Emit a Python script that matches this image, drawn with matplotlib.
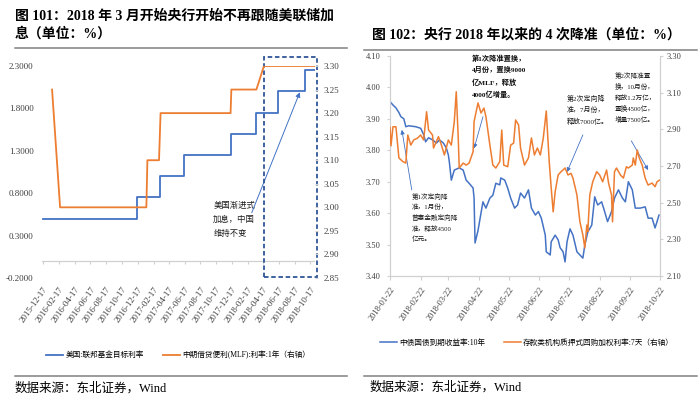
import matplotlib
matplotlib.use('Agg')
import matplotlib.pyplot as plt
from matplotlib.lines import Line2D
from matplotlib.patches import Rectangle
import numpy as np
import pandas as pd

plt.rcParams['font.family'] = ['Liberation Serif', 'Noto Sans CJK SC']
plt.rcParams['axes.unicode_minus'] = False

BLUE = '#4472C4'
ORANGE = '#ED7D31'
AXGREY = '#D0D0D0'
TXT = '#404040'

# ---- 图101 数据 ----
fed_dates = ['2015-12-17', '2016-12-14', '2017-03-15', '2017-06-14', '2017-12-13',
             '2018-03-21', '2018-06-13', '2018-09-26']
fed_rate = [0.50, 0.75, 1.00, 1.25, 1.50, 1.75, 2.00, 2.25]
fed_end = '2018-11-05'

mlf_dates = ['2016-01-21', '2016-02-21', '2017-01-20', '2017-01-24', '2017-03-10',
             '2017-03-16', '2017-12-12', '2017-12-15', '2018-03-22', '2018-04-20',
             '2018-11-05']
mlf_rate = [3.25, 3.00, 3.00, 3.10, 3.10, 3.20, 3.20, 3.25, 3.25, 3.30, 3.30]

left_ticks = ['2015-12-17', '2016-02-17', '2016-04-17', '2016-06-17', '2016-08-17',
              '2016-10-17', '2016-12-17', '2017-02-17', '2017-04-17', '2017-06-17',
              '2017-08-17', '2017-10-17', '2017-12-17', '2018-02-17', '2018-04-17',
              '2018-06-17', '2018-08-17', '2018-10-17']

# ---- 图102 数据 ----
bond_dates = ['2018-01-22', '2018-01-25', '2018-01-28', '2018-01-31', '2018-02-02', '2018-02-05',
              '2018-02-07', '2018-02-10', '2018-02-17', '2018-02-22', '2018-02-25', '2018-02-27',
              '2018-03-02', '2018-03-06', '2018-03-10', '2018-03-13', '2018-03-17', '2018-03-20',
              '2018-03-22', '2018-03-23', '2018-03-25', '2018-03-28', '2018-04-02', '2018-04-06',
              '2018-04-09', '2018-04-12', '2018-04-16', '2018-04-17', '2018-04-18', '2018-04-21',
              '2018-04-24', '2018-04-26', '2018-04-29', '2018-05-03', '2018-05-06', '2018-05-09',
              '2018-05-13', '2018-05-14', '2018-05-18', '2018-05-21', '2018-05-24', '2018-05-28',
              '2018-05-31', '2018-06-03', '2018-06-07', '2018-06-11', '2018-06-14', '2018-06-18',
              '2018-06-21', '2018-06-24', '2018-06-28', '2018-06-29', '2018-07-03', '2018-07-04',
              '2018-07-08', '2018-07-11', '2018-07-13', '2018-07-16', '2018-07-18', '2018-07-20',
              '2018-07-23', '2018-07-26', '2018-07-30', '2018-08-02', '2018-08-05', '2018-08-07',
              '2018-08-10', '2018-08-14', '2018-08-17', '2018-08-20', '2018-08-24', '2018-08-27',
              '2018-08-30', '2018-09-03', '2018-09-06', '2018-09-10', '2018-09-14', '2018-09-17',
              '2018-09-20', '2018-09-24', '2018-09-27', '2018-10-02', '2018-10-07', '2018-10-10',
              '2018-10-14', '2018-10-17', '2018-10-19', '2018-10-21']
bond_10y = [3.955, 3.944, 3.935, 3.920, 3.907, 3.900, 3.875, 3.878, 3.875, 3.870, 3.850, 3.827,
            3.840, 3.833, 3.823, 3.833, 3.823, 3.807, 3.785, 3.763, 3.705, 3.737, 3.744, 3.737,
            3.705, 3.695, 3.680, 3.648, 3.505, 3.545, 3.600, 3.636, 3.616, 3.648, 3.657, 3.695,
            3.690, 3.712, 3.705, 3.680, 3.648, 3.616, 3.626, 3.664, 3.648, 3.674, 3.616, 3.594,
            3.605, 3.584, 3.530, 3.477, 3.467, 3.509, 3.530, 3.515, 3.490, 3.477, 3.445, 3.509,
            3.550, 3.530, 3.477, 3.467, 3.457, 3.499, 3.540, 3.562, 3.652, 3.626, 3.636, 3.605,
            3.573, 3.605, 3.648, 3.674, 3.648, 3.636, 3.700, 3.674, 3.616, 3.616, 3.620, 3.584,
            3.584, 3.553, 3.573, 3.594]

repo_dates = ['2018-01-22', '2018-01-23', '2018-01-25', '2018-01-28', '2018-01-31', '2018-02-04',
              '2018-02-07', '2018-02-09', '2018-02-12', '2018-02-15', '2018-02-19', '2018-02-22',
              '2018-02-25', '2018-02-28', '2018-03-02', '2018-03-06', '2018-03-07', '2018-03-12',
              '2018-03-15', '2018-03-18', '2018-03-22', '2018-03-25', '2018-03-28', '2018-03-30',
              '2018-04-01', '2018-04-02', '2018-04-06', '2018-04-09', '2018-04-12', '2018-04-16',
              '2018-04-17', '2018-04-21', '2018-04-24', '2018-04-27', '2018-04-29', '2018-05-03',
              '2018-05-06', '2018-05-09', '2018-05-13', '2018-05-15', '2018-05-17', '2018-05-21',
              '2018-05-24', '2018-05-27', '2018-05-29', '2018-06-01', '2018-06-03', '2018-06-07',
              '2018-06-11', '2018-06-14', '2018-06-17', '2018-06-20', '2018-06-23', '2018-06-26',
              '2018-06-29', '2018-07-02', '2018-07-04', '2018-07-06', '2018-07-08', '2018-07-11',
              '2018-07-14', '2018-07-18', '2018-07-21', '2018-07-24', '2018-07-26', '2018-07-30',
              '2018-08-02', '2018-08-05', '2018-08-07', '2018-08-09', '2018-08-10', '2018-08-12',
              '2018-08-15', '2018-08-19', '2018-08-22', '2018-08-25', '2018-08-29', '2018-08-31',
              '2018-09-03', '2018-09-04', '2018-09-06', '2018-09-08', '2018-09-12', '2018-09-15',
              '2018-09-18', '2018-09-20', '2018-09-24', '2018-09-25', '2018-09-27', '2018-09-29',
              '2018-10-01', '2018-10-04', '2018-10-07', '2018-10-10', '2018-10-14', '2018-10-17',
              '2018-10-19', '2018-10-22']
repo_7d = [2.910, 2.810, 2.914, 2.914, 2.744, 2.724, 2.716, 2.869, 2.814, 2.842, 2.853, 2.869,
           2.842, 2.996, 2.896, 2.869, 2.798, 2.860, 2.814, 2.760, 2.842, 2.814, 2.942, 3.105,
           2.853, 2.689, 2.716, 2.705, 2.716, 2.778, 2.942, 3.044, 2.989, 3.016, 2.969, 2.814,
           2.705, 2.689, 2.724, 2.896, 2.705, 2.696, 2.814, 2.825, 2.951, 2.924, 2.798, 2.705,
           2.744, 2.853, 2.760, 2.798, 2.760, 2.853, 3.000, 2.724, 2.580, 2.450, 2.560, 2.651,
           2.669, 2.689, 2.651, 2.660, 2.634, 2.542, 2.396, 2.324, 2.253, 2.378, 2.342, 2.542,
           2.614, 2.669, 2.651, 2.614, 2.678, 2.607, 2.542, 2.396, 2.669, 2.689, 2.651, 2.634,
           2.696, 2.689, 2.705, 2.744, 2.705, 2.787, 2.744, 2.705, 2.634, 2.596, 2.607, 2.587,
           2.614, 2.624]

right_ticks = ['2018-01-22', '2018-02-22', '2018-03-22', '2018-04-22', '2018-05-22',
               '2018-06-22', '2018-07-22', '2018-08-22', '2018-09-22', '2018-10-22']

W, H = 700, 398
fig = plt.figure(figsize=(7, 3.98), dpi=100)


def fx(px):
    return px / W


def fy(py):
    return 1 - py / H


def hline(x0, x1, y, color='#808080', lw=1.1):
    fig.add_artist(Line2D([fx(x0), fx(x1)], [fy(y), fy(y)], transform=fig.transFigure,
                          color=color, lw=lw))


# ================= 图101 =================
fig.text(fx(15), fy(16), '图 101：2018 年 3 月开始央行开始不再跟随美联储加',
         fontsize=10, weight='bold', va='center')
fig.text(fx(15), fy(34), '息（单位：%）', fontsize=10, weight='bold', va='center')
hline(15, 347, 48)

ax1 = fig.add_axes([fx(42), fy(278), fx(315.3 - 42), 212 / H])
ax1b = ax1.twinx()

fd = pd.to_datetime(fed_dates + [fed_end])
l1, = ax1.plot(fd, fed_rate + [fed_rate[-1]], color=BLUE, lw=1.3, drawstyle='steps-post',
               label='美国:联邦基金目标利率')
l2, = ax1b.plot(pd.to_datetime(mlf_dates), mlf_rate, color=ORANGE, lw=1.3,
                label='中期借贷便利(MLF):利率:1年（右轴）')

ax1.set_xlim(pd.Timestamp('2015-12-13'), pd.Timestamp('2018-11-05'))
ax1.set_ylim(-0.2, 2.3)
ax1.set_yticks(np.arange(-0.2, 2.31, 0.5))
ax1.set_yticklabels([f'{v:.4f}' for v in np.arange(-0.2, 2.31, 0.5)])
ax1b.set_ylim(2.85, 3.30)
ax1b.set_yticks(np.linspace(2.85, 3.30, 10))
ax1b.set_yticklabels([f'{v:.2f}' for v in np.linspace(2.85, 3.30, 10)])

lt = pd.to_datetime(left_ticks)
ax1.set_xticks(lt)
ax1.set_xticklabels(left_ticks, rotation=55, ha='right', rotation_mode='anchor')
ax1.axhline(0, color=AXGREY, lw=0.9)
ax1.vlines(lt, -0.04, 0, color=AXGREY, lw=0.8)

for a in (ax1, ax1b):
    for s in a.spines.values():
        s.set_visible(False)
ax1.tick_params(axis='x', length=0, labelsize=6.5, colors=TXT, pad=5)
ax1.tick_params(axis='y', length=0, labelsize=6.5, colors=TXT, pad=6)
ax1b.tick_params(axis='y', length=2, color=AXGREY, labelsize=6.5, colors=TXT, pad=4)
ax1b.tick_params(axis='y', color=AXGREY)

box = Rectangle((0.812, 0.005), 0.194, 1.037, transform=ax1.transAxes, fill=False,
                ec='#2F5597', ls=(0, (2.5, 1.5)), lw=1.3, clip_on=False)
ax1b.add_patch(box)

ax1.text(pd.Timestamp('2017-10-06'), 0.70, '美国渐进式\n加息，中国\n维持不变', fontsize=6,
         va='top', ha='left', linespacing=2.0, color='#1a1a1a')
ax1.annotate('', xy=(pd.Timestamp('2018-09-06'), 1.99), xytext=(pd.Timestamp('2018-03-04'), 0.57),
             arrowprops=dict(arrowstyle='-|>', color=BLUE, lw=0.7, mutation_scale=7,
                             shrinkA=0, shrinkB=0))

fig.legend(handles=[l1, l2], loc='center', bbox_to_anchor=(fx(178), fy(355)), ncol=2,
           frameon=False, prop={'size': 5.5}, handlelength=2.2, columnspacing=2.5,
           handletextpad=0.3)

hline(15, 347, 375.5)
fig.text(fx(15), fy(388), '数据来源：东北证券，Wind', fontsize=9, va='center')

# ================= 图102 =================
fig.text(fx(372), fy(35), '图 102：央行 2018 年以来的 4 次降准（单位：%）',
         fontsize=10, weight='bold', va='center')
hline(364, 697, 50)

ax2 = fig.add_axes([fx(390), fy(276), fx(270), 220 / H])
ax2b = ax2.twinx()

l3, = ax2.plot(pd.to_datetime(bond_dates), bond_10y, color=BLUE, lw=1.1,
               label='中债国债到期收益率:10年')
l4, = ax2b.plot(pd.to_datetime(repo_dates), repo_7d, color=ORANGE, lw=1.1,
                label='存款类机构质押式回购加权利率:7天（右轴）')

ax2.set_xlim(pd.Timestamp('2018-01-22'), pd.Timestamp('2018-10-22'))
ax2.set_ylim(3.40, 4.10)
ax2.set_yticks(np.arange(3.40, 4.101, 0.10))
ax2.set_yticklabels([f'{v:.2f}' for v in np.arange(3.40, 4.101, 0.10)])
ax2b.set_ylim(2.10, 3.30)
ax2b.set_yticks(np.arange(2.10, 3.301, 0.20))
ax2b.set_yticklabels([f'{v:.2f}' for v in np.arange(2.10, 3.301, 0.20)])

rt = pd.to_datetime(right_ticks)
ax2.set_xticks(rt)
ax2.set_xticklabels(right_ticks, rotation=55, ha='right', rotation_mode='anchor')

for a in (ax2, ax2b):
    for s in a.spines.values():
        s.set_visible(False)
ax2.spines['left'].set_visible(True)
ax2.spines['bottom'].set_visible(True)
ax2b.spines['right'].set_visible(True)
for s in (ax2.spines['left'], ax2.spines['bottom'], ax2b.spines['right']):
    s.set_color(AXGREY)
    s.set_linewidth(0.9)
ax2.tick_params(axis='x', length=3, color=AXGREY, labelsize=6, colors=TXT, pad=4)
ax2.tick_params(axis='x', color=AXGREY)
ax2.tick_params(axis='y', length=2, labelsize=6, colors=TXT, pad=5)
ax2.tick_params(axis='y', color=AXGREY)
ax2b.tick_params(axis='y', length=2, labelsize=6, colors=TXT, pad=3)
ax2b.tick_params(axis='y', color=AXGREY)

arrow = dict(arrowstyle='-|>', color=BLUE, lw=0.6, mutation_scale=6, shrinkA=0, shrinkB=0)

ax2.text(pd.Timestamp('2018-04-15'), 4.105, '第1次降准置换，\n4月份，置换9000\n亿MLF，释放\n4000亿增量。',
         fontsize=5.2, weight='bold', va='top', ha='left', linespacing=1.75, color='#111111')
ax2.annotate('', xy=(pd.Timestamp('2018-04-17'), 3.806), xytext=(pd.Timestamp('2018-04-26'), 3.907),
             arrowprops=arrow)

ax2.text(pd.Timestamp('2018-07-20'), 3.976, '第2次定向降\n准，7月份，\n释放7000亿。',
         fontsize=5, va='top', ha='left', linespacing=1.7, color='#1a1a1a')
ax2.annotate('', xy=(pd.Timestamp('2018-07-20'), 3.731), xytext=(pd.Timestamp('2018-08-05'), 3.849),
             arrowprops=arrow)

ax2.text(pd.Timestamp('2018-09-06'), 4.049, '第2次降准置\n换，10月份，\n释放1.2万亿，\n置换4500亿，\n增量7500亿。',
         fontsize=4.8, va='top', ha='left', linespacing=1.65, color='#1a1a1a')
ax2.annotate('', xy=(pd.Timestamp('2018-10-10'), 3.737), xytext=(pd.Timestamp('2018-09-23'), 3.83),
             arrowprops=arrow)

ax2.text(pd.Timestamp('2018-02-13'), 3.664, '第1次定向降\n准，1月份，\n普惠金融定向降\n准，释放4500\n亿元。',
         fontsize=4.8, va='top', ha='left', linespacing=1.65, color='#1a1a1a')
ax2.annotate('', xy=(pd.Timestamp('2018-02-03'), 3.865), xytext=(pd.Timestamp('2018-02-13'), 3.674),
             arrowprops=arrow)

fig.legend(handles=[l3, l4], loc='center', bbox_to_anchor=(fx(527), fy(343)), ncol=2,
           frameon=False, prop={'size': 5.5}, handlelength=2.2, columnspacing=2.5,
           handletextpad=0.3)

hline(364, 697, 375.5)
fig.text(fx(370), fy(387), '数据来源：东北证券，Wind', fontsize=9, va='center')

fig.savefig('out.png', dpi=100)
